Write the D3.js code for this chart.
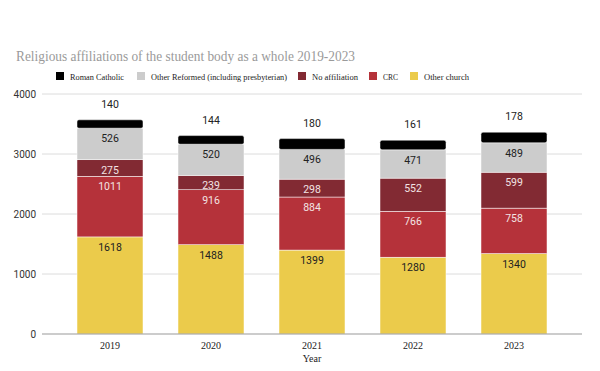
<!DOCTYPE html>
<html>
<head>
<meta charset="utf-8">
<script src="https://cdn.jsdelivr.net/npm/d3@7"></script>
<style>
  body { margin: 0; background: #fff; }
  svg { display: block; }
</style>
</head>
<body>
<svg id="chart" width="600" height="371"></svg>
<script>
// data
var years = ['2019', '2020', '2021', '2022', '2023'];
var otherChurch = [1618, 1488, 1399, 1280, 1340];
var crc = [1011, 916, 884, 766, 758];
var noAffiliation = [275, 239, 298, 552, 599];
var otherReformed = [526, 520, 496, 471, 489];
var romanCatholic = [140, 144, 180, 161, 178];
var yTicks = [0, 1000, 2000, 3000, 4000];

var seriesNames = ['Other church', 'CRC', 'No affiliation', 'Other Reformed (including presbyterian)', 'Roman Catholic'];
var seriesColors = ['#ebcb4b', '#b5323a', '#822a33', '#cccccc', '#000000'];
var labelColors = ['#222', '#f3e3e3', '#f3e3e3', '#222', '#222'];

var svg = d3.select('#chart');

var rows = years.map(function(y, i) {
  return {year: y, 'Other church': otherChurch[i], 'CRC': crc[i], 'No affiliation': noAffiliation[i],
    'Other Reformed (including presbyterian)': otherReformed[i], 'Roman Catholic': romanCatholic[i]};
});
var stacked = d3.stack().keys(seriesNames)(rows);

var x = d3.scaleBand().domain(years).range([42, 582]).paddingInner(0.3465).paddingOuter(0.3465);
var y = d3.scaleLinear().domain([0, 4000]).range([334, 94]);

// title
svg.append('text')
    .attr('x', 16).attr('y', 61)
    .attr('font-family', 'Liberation Serif, serif')
    .attr('font-size', 15)
    .attr('textLength', 339).attr('lengthAdjust', 'spacingAndGlyphs')
    .attr('fill', '#9a9a9a')
    .text('Religious affiliations of the student body as a whole 2019-2023');

// legend (drawn in reverse stack order)
var legendX = [56, 137, 298, 369, 410];
var legendW = [54, 136, 46, 15, 45];
var legendOrder = [4, 3, 2, 1, 0];
legendOrder.forEach(function(si, k) {
  var g = svg.append('g').attr('transform', 'translate(' + legendX[k] + ',72)');
  g.append('rect').attr('width', 8).attr('height', 8).attr('fill', seriesColors[si]);
  g.append('text').attr('x', 14).attr('y', 7.5)
      .attr('font-family', 'Liberation Serif, serif').attr('font-size', 9)
      .attr('textLength', legendW[k]).attr('lengthAdjust', 'spacingAndGlyphs')
      .attr('fill', '#222').text(seriesNames[si]);
});

// gridlines
svg.append('g').selectAll('line')
    .data(yTicks.slice(1))
    .enter().append('line')
      .attr('x1', 42).attr('x2', 582)
      .attr('y1', function(d) { return y(d); })
      .attr('y2', function(d) { return y(d); })
      .attr('stroke', '#dcdcdc').attr('stroke-width', 1);

// y axis labels
svg.append('g').selectAll('text')
    .data(yTicks)
    .enter().append('text')
      .attr('x', 36)
      .attr('y', function(d) { return y(d) + 3.5; })
      .attr('text-anchor', 'end')
      .attr('font-family', 'Roboto, sans-serif').attr('font-size', 10)
      .attr('fill', '#333')
      .text(function(d) { return d; });

// bars
stacked.forEach(function(layer, si) {
  var g = svg.append('g');
  g.selectAll('rect')
    .data(layer)
    .enter().append('rect')
      .attr('x', function(d) { return x(d.data.year); })
      .attr('y', function(d) { return y(d[1]); })
      .attr('width', x.bandwidth())
      .attr('height', function(d) { return y(d[0]) - y(d[1]); })
      .attr('rx', si === 4 ? 2 : 0)
      .attr('fill', seriesColors[si])
      .attr('stroke', '#fff').attr('stroke-width', 0.5);

  g.selectAll('text')
    .data(layer)
    .enter().append('text')
      .attr('x', function(d) { return x(d.data.year) + x.bandwidth() / 2; })
      .attr('y', function(d) { return si === 4 ? y(d[1]) - 12 : y(d[1]) + 14; })
      .attr('text-anchor', 'middle')
      .attr('font-family', 'Roboto, sans-serif').attr('font-size', 10.5)
      .attr('fill', labelColors[si])
      .text(function(d) { return d[1] - d[0]; });
});

// baseline
svg.append('line')
    .attr('x1', 42).attr('x2', 582)
    .attr('y1', y(0)).attr('y2', y(0))
    .attr('stroke', '#999').attr('stroke-width', 1.2);

// x labels
svg.append('g').selectAll('text')
    .data(years)
    .enter().append('text')
      .attr('x', function(d) { return x(d) + x.bandwidth() / 2; })
      .attr('y', 349)
      .attr('text-anchor', 'middle')
      .attr('font-family', 'Liberation Serif, serif').attr('font-size', 10)
      .attr('fill', '#222')
      .text(function(d) { return d; });

svg.append('text')
    .attr('x', 312).attr('y', 362)
    .attr('text-anchor', 'middle')
    .attr('font-family', 'Liberation Serif, serif').attr('font-size', 10)
    .attr('fill', '#222')
    .text('Year');
</script>
</body>
</html>
